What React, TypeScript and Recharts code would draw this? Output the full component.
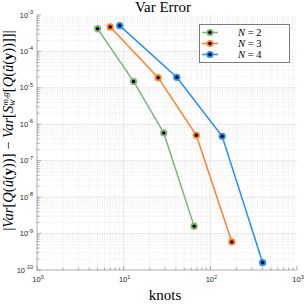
import { ScatterChart, Scatter, XAxis, YAxis, ReferenceLine, Legend } from "recharts";

// sparse grid knots vs. variance error, one list per N
const knotsN2 = [5, 13, 29, 65];
const errorN2 = [4.2e-4, 1.5e-5, 5.8e-7, 1.6e-9];
const knotsN3 = [7, 25, 69, 177];
const errorN3 = [4.7e-4, 1.9e-5, 5.0e-7, 5.9e-10];
const knotsN4 = [9, 41, 137, 401];
const errorN4 = [5.1e-4, 1.95e-5, 4.7e-7, 1.6e-10];

const xMajor = [1, 10, 100, 1000];
const yMajor = [1e-10, 1e-9, 1e-8, 1e-7, 1e-6, 1e-5, 1e-4, 1e-3];

const AXIS = "#7a7a7a";
const TICK_TEXT = "#262626";
const SERIF = "'Liberation Serif', 'Times New Roman', serif";
const SANS = "'Liberation Sans', Arial, sans-serif";

const series = [
  { name: "2", color: "#7fb47f", knots: knotsN2, error: errorN2 },
  { name: "3", color: "#ff7f2a", knots: knotsN3, error: errorN3 },
  { name: "4", color: "#1f8fff", knots: knotsN4, error: errorN4 },
];

const minorOf = (majors: number[]) =>
  majors.slice(0, -1).flatMap((m) => [2, 3, 4, 5, 6, 7, 8, 9].map((k) => k * m));

const xMinor = minorOf(xMajor);
const yMinor = minorOf(yMajor);
const xTicks = [...xMajor, ...xMinor].sort((a, b) => a - b);
const yTicks = [...yMajor, ...yMinor].sort((a, b) => a - b);

const isMajor = (v: number) => Math.abs(Math.log10(v) - Math.round(Math.log10(v))) < 1e-6;
const exponent = (v: number) => Math.round(Math.log10(v));

function Marker({ cx, cy, color }: any) {
  return (
    <g>
      <circle cx={cx} cy={cy} r={3.6} fill={color} />
      <circle cx={cx} cy={cy} r={1.7} fill="#000" />
    </g>
  );
}

function BottomTick({ x, y, payload }: any) {
  const v = payload.value;
  const major = isMajor(v);
  return (
    <g>
      <line x1={x} x2={x} y1={y} y2={y - (major ? 4 : 2.5)} stroke={AXIS} strokeWidth={0.6} />
      {major && (
        <text x={x + 1} y={y + 12} textAnchor="middle" fontFamily={SANS} fontSize={7.5} fill={TICK_TEXT}>
          10
          <tspan dy={-3.5} fontSize={5.5}>
            {exponent(v)}
          </tspan>
        </text>
      )}
    </g>
  );
}

function TopTick({ x, y, payload }: any) {
  const major = isMajor(payload.value);
  return <line x1={x} x2={x} y1={y} y2={y + (major ? 4 : 2.5)} stroke={AXIS} strokeWidth={0.6} />;
}

function LeftTick({ x, y, payload }: any) {
  const v = payload.value;
  const major = isMajor(v);
  return (
    <g>
      <line x1={x} x2={x + (major ? 4 : 2.5)} y1={y} y2={y} stroke={AXIS} strokeWidth={0.6} />
      {major && (
        <text x={x - 4} y={y + 2.5} textAnchor="end" fontFamily={SANS} fontSize={7.5} fill={TICK_TEXT}>
          10
          <tspan dy={-3.5} fontSize={5.5}>
            {exponent(v)}
          </tspan>
        </text>
      )}
    </g>
  );
}

function RightTick({ x, y, payload }: any) {
  const major = isMajor(payload.value);
  return <line x1={x} x2={x - (major ? 4 : 2.5)} y1={y} y2={y} stroke={AXIS} strokeWidth={0.6} />;
}

// y label plus the title, both anchored to the left axis box
function YLabel({ viewBox }: any) {
  const cx = viewBox.x + 12.5;
  const cy = viewBox.y + viewBox.height / 2 - 12;
  return (
    <g>
      <text x={163} y={viewBox.y - 3} textAnchor="middle" fontFamily={SERIF} fontSize={15} fill="#000">
        Var Error
      </text>
      <text
        transform={`translate(${cx},${cy}) rotate(-90)`}
        textAnchor="middle"
        fontFamily={SERIF}
        fontSize={14.5}
        fill="#000"
      >
        <tspan>|</tspan>
        <tspan fontStyle="italic">Var</tspan>
        <tspan>[</tspan>
        <tspan fontStyle="italic">Q</tspan>
        <tspan>(</tspan>
        <tspan fontStyle="italic">û</tspan>
        <tspan>(</tspan>
        <tspan fontWeight="bold">y</tspan>
        <tspan>))]</tspan>
        <tspan> − </tspan>
        <tspan fontStyle="italic">Var</tspan>
        <tspan>[</tspan>
        <tspan fontStyle="italic">S</tspan>
        <tspan fontStyle="italic" fontSize={9.5} dy={2.5}>w</tspan>
        <tspan fontStyle="italic" fontSize={9} dx={-6} dy={-7.5}>m,g</tspan>
        <tspan dy={5}>[</tspan>
        <tspan fontStyle="italic">Q</tspan>
        <tspan>(</tspan>
        <tspan fontStyle="italic">û</tspan>
        <tspan>(</tspan>
        <tspan fontWeight="bold">y</tspan>
        <tspan>))]]|</tspan>
      </text>
    </g>
  );
}

function XLabel({ viewBox }: any) {
  return (
    <text x={viewBox.x + viewBox.width / 2 - 2} y={viewBox.y + 30} textAnchor="middle" fontFamily={SERIF} fontSize={15} fill="#000">
      knots
    </text>
  );
}

function LegendBox() {
  return (
    <div style={{ border: `1px solid ${AXIS}`, background: "#fff", width: 89, height: 37 }}>
      <svg width={89} height={37} style={{ display: "block" }}>
        {series.map((s, i) => {
          const y = 7.5 + i * 11;
          return (
            <g key={s.name}>
              <line x1={2} x2={18} y1={y} y2={y} stroke={s.color} strokeWidth={1.5} />
              <Marker cx={10} cy={y} color={s.color} />
              <text x={38} y={y + 3.5} fontFamily={SERIF} fontSize={10.5} fill="#000">
                <tspan fontStyle="italic">N</tspan> = {s.name}
              </text>
            </g>
          );
        })}
      </svg>
    </div>
  );
}

export default function App() {
  return (
    <div style={{ position: "absolute", left: 0, top: 0, background: "#fff" }}>
      <ScatterChart width={305} height={304} margin={{ top: 15, right: 8, bottom: 0, left: 0 }}>
        <XAxis
          dataKey="x"
          type="number"
          scale="log"
          domain={[1, 1000]}
          allowDataOverflow
          ticks={xTicks}
          interval={0}
          height={34}
          tickSize={0}
          tickMargin={0}
          tickLine={false}
          axisLine={{ stroke: AXIS, strokeWidth: 0.6 }}
          tick={<BottomTick />}
          label={<XLabel />}
        />
        <XAxis
          xAxisId="top"
          orientation="top"
          type="number"
          scale="log"
          domain={[1, 1000]}
          allowDataOverflow
          ticks={xTicks}
          interval={0}
          height={0}
          tickSize={0}
          tickMargin={0}
          tickLine={false}
          axisLine={{ stroke: AXIS, strokeWidth: 0.6 }}
          tick={<TopTick />}
        />
        <YAxis
          dataKey="y"
          type="number"
          scale="log"
          domain={[1e-10, 1e-3]}
          allowDataOverflow
          ticks={yTicks}
          interval={0}
          width={37}
          tickSize={0}
          tickMargin={0}
          tickLine={false}
          axisLine={{ stroke: AXIS, strokeWidth: 0.6 }}
          tick={<LeftTick />}
          label={<YLabel />}
        />
        <YAxis
          yAxisId="right"
          orientation="right"
          type="number"
          scale="log"
          domain={[1e-10, 1e-3]}
          allowDataOverflow
          ticks={yTicks}
          interval={0}
          width={0}
          tickSize={0}
          tickMargin={0}
          tickLine={false}
          axisLine={{ stroke: AXIS, strokeWidth: 0.6 }}
          tick={<RightTick />}
        />
        {xMinor.map((v) => (
          <ReferenceLine key={`xm${v}`} x={v} stroke="#d9d9d9" strokeWidth={0.6} strokeDasharray="1 1.5" />
        ))}
        {yMinor.map((v) => (
          <ReferenceLine key={`ym${v}`} y={v} stroke="#d9d9d9" strokeWidth={0.6} strokeDasharray="1 1.5" />
        ))}
        {xMajor.slice(1, -1).map((v) => (
          <ReferenceLine key={`xM${v}`} x={v} stroke="#dedede" strokeWidth={0.7} />
        ))}
        {yMajor.slice(1, -1).map((v) => (
          <ReferenceLine key={`yM${v}`} y={v} stroke="#dedede" strokeWidth={0.7} />
        ))}
        {series.map((s) => (
          <Scatter
            key={s.name}
            name={`N = ${s.name}`}
            data={s.knots.map((k, i) => ({ x: k, y: s.error[i] }))}
            line={{ stroke: s.color, strokeWidth: 1.5 }}
            lineType="joint"
            shape={(p: any) => <Marker cx={p.cx} cy={p.cy} color={s.color} />}
            isAnimationActive={false}
          />
        ))}
        <Legend
          layout="vertical"
          align="center"
          verticalAlign="middle"
          wrapperStyle={{ position: "absolute", left: 199, top: 24, width: 91, height: 39 }}
          content={() => <LegendBox />}
        />
      </ScatterChart>
    </div>
  );
}
